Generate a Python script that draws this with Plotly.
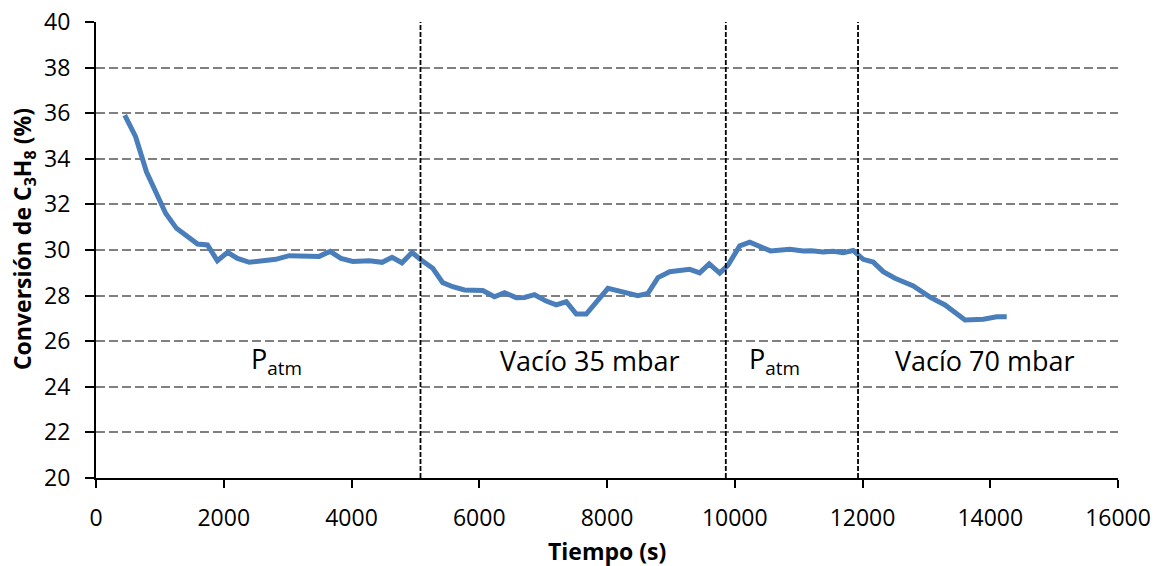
import plotly.graph_objects as go

tiempo = [450, 620, 790, 1090, 1260, 1590, 1745, 1900, 2060, 2215, 2400, 2610, 2815,
          3025, 3235, 3495, 3665, 3835, 4020, 4280, 4480, 4635, 4790, 4948, 5090,
          5272, 5428, 5585, 5768, 6055, 6238, 6395, 6578, 6708, 6865, 7048, 7205,
          7362, 7519, 7675, 8015, 8302, 8484, 8641, 8798, 8981, 9138, 9295, 9451,
          9600, 9765, 9895, 10078, 10235, 10559, 10862, 11071, 11202, 11384, 11541,
          11698, 11854, 12011, 12168, 12325, 12508, 12795, 13056, 13292, 13605,
          13892, 14101, 14258]
conversion = [35.92, 34.97, 33.43, 31.61, 30.95, 30.26, 30.22, 29.53, 29.9, 29.63,
              29.46, 29.5, 29.59, 29.75, 29.72, 29.72, 29.94, 29.63, 29.5, 29.53,
              29.46, 29.68, 29.44, 29.89, 29.56, 29.2, 28.57, 28.39, 28.25, 28.22,
              27.95, 28.13, 27.91, 27.92, 28.04, 27.76, 27.59, 27.73, 27.19, 27.19,
              28.32, 28.14, 28.0, 28.1, 28.79, 29.05, 29.08, 29.15, 29.0, 29.39,
              28.99, 29.34, 30.18, 30.34, 29.96, 30.03, 29.96, 29.97, 29.91, 29.94,
              29.88, 29.98, 29.59, 29.47, 29.05, 28.76, 28.42, 27.93, 27.59, 26.93,
              26.96, 27.07, 27.07]

cambios = [5080, 9860, 11930]
etiquetas = ["P<sub>atm</sub>", "Vacío 35 mbar", "P<sub>atm</sub>", "Vacío 70 mbar"]
etiqueta_x = [2820, 7730, 10630, 13920]
etiqueta_y = [25.15, 25.15, 25.15, 25.15]

titulo_x = "<b>Tiempo (s)</b>"
titulo_y = "<b>Conversión de C<sub>3</sub>H<sub>8</sub> (%)</b>"

fig = go.Figure()
fig.add_trace(go.Scatter(x=tiempo, y=conversion, mode="lines",
                         line=dict(color="#4a7ebb", width=5), showlegend=False))

for c in cambios:
    fig.add_shape(type="line", x0=c, x1=c, y0=0, y1=1, xref="x", yref="paper",
                  line=dict(color="black", width=1.8, dash="5px,2px"))

for t, x, y in zip(etiquetas, etiqueta_x, etiqueta_y):
    fig.add_annotation(x=x, y=y, text=t, showarrow=False,
                       font=dict(size=27, color="black", family="Open Sans"))

fig.add_annotation(x=0.5, y=-0.16, xref="paper", yref="paper", text=titulo_x,
                   showarrow=False, xanchor="center", yanchor="middle",
                   font=dict(size=23, color="black"))
fig.add_annotation(x=-0.071, y=0.525, xref="paper", yref="paper", text=titulo_y,
                   showarrow=False, xanchor="center", yanchor="middle", textangle=-90,
                   font=dict(size=23, color="black"))

fig.update_layout(
    width=1159, height=566,
    margin=dict(l=96, r=41, t=22, b=88, autoexpand=False),
    plot_bgcolor="white", paper_bgcolor="white",
    font=dict(family="Open Sans", color="black"),
    xaxis=dict(range=[0, 16000], dtick=2000, tickformat="d", showgrid=False, zeroline=False,
               showline=True, linecolor="black", linewidth=2, automargin=False,
               ticks="outside", ticklen=8, tickwidth=2, tickcolor="black",
               tickfont=dict(size=23), ticklabelstandoff=10),
    yaxis=dict(range=[20, 40], dtick=2, showgrid=True, gridcolor="#808080",
               gridwidth=2, griddash="9px,4px", zeroline=False, automargin=False,
               showline=True, linecolor="black", linewidth=2,
               ticks="outside", ticklen=9, tickwidth=2, tickcolor="black",
               tickfont=dict(size=23), ticklabelstandoff=10),
)

fig.write_html("out.html")
